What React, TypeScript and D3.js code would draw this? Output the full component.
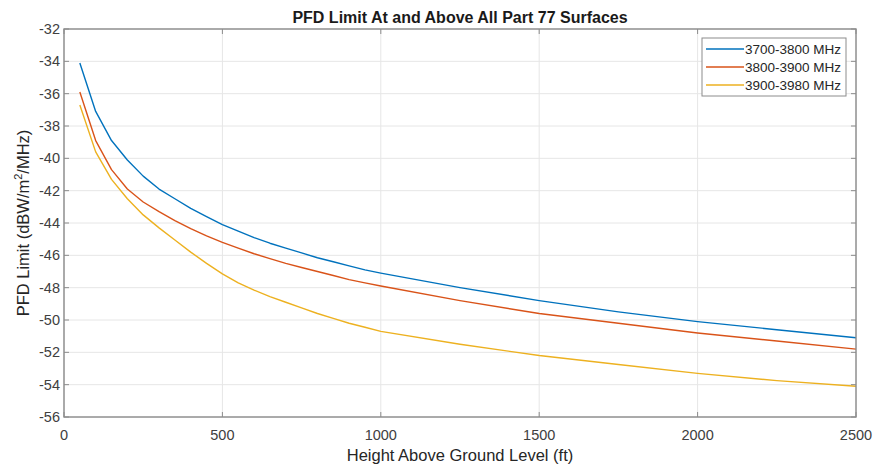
import React from "react";
import * as d3 from "d3";

const heights = [50, 100, 150, 200, 250, 300, 350, 400, 450, 500, 550, 600, 650, 700, 750, 800, 850, 900, 950, 1000, 1250, 1500, 1750, 2000, 2250, 2500];
const band1 = [-34.1, -37.1, -38.9, -40.1, -41.1, -41.9, -42.5, -43.1, -43.6, -44.1, -44.5, -44.9, -45.25, -45.55, -45.85, -46.15, -46.4, -46.65, -46.9, -47.1, -48.0, -48.8, -49.5, -50.1, -50.6, -51.1];
const band2 = [-35.9, -38.9, -40.7, -41.9, -42.7, -43.3, -43.85, -44.35, -44.8, -45.2, -45.55, -45.9, -46.2, -46.5, -46.75, -47.0, -47.25, -47.5, -47.7, -47.9, -48.8, -49.6, -50.2, -50.8, -51.3, -51.8];
const band3 = [-36.7, -39.6, -41.3, -42.5, -43.5, -44.3, -45.05, -45.8, -46.5, -47.15, -47.7, -48.15, -48.55, -48.9, -49.25, -49.6, -49.9, -50.2, -50.45, -50.7, -51.5, -52.2, -52.75, -53.3, -53.75, -54.1];
const seriesNames = ["3700-3800 MHz", "3800-3900 MHz", "3900-3980 MHz"];
const seriesColors = ["#0072BD", "#D95319", "#EDB120"];
const xTicks = [0, 500, 1000, 1500, 2000, 2500];
const yTicks = [-32, -34, -36, -38, -40, -42, -44, -46, -48, -50, -52, -54, -56];

const W = 874, H = 465;
const L = 64, R = 856, T = 29, B = 417;
const font = "'Liberation Sans', Arial, sans-serif";

export default function App() {
  const x = d3.scaleLinear().domain([0, 2500]).range([L, R]);
  const y = d3.scaleLinear().domain([-56, -32]).range([B, T]);
  const line = d3.line<[number, number]>().x(d => x(d[0])).y(d => y(d[1]));
  const all = [band1, band2, band3];
  const axisColor = "#8c8c8c";
  const tick = 5;
  return (
    <svg width={W} height={H} style={{ position: "absolute", left: 0, top: 0, background: "#fff" }} fontFamily={font}>
      <rect x={0} y={0} width={W} height={H} fill="#fff" />
      {xTicks.map(t => (
        <line key={"gx" + t} x1={x(t)} x2={x(t)} y1={T} y2={B} stroke="#e6e6e6" strokeWidth={1} />
      ))}
      {yTicks.map(t => (
        <line key={"gy" + t} x1={L} x2={R} y1={y(t)} y2={y(t)} stroke="#e6e6e6" strokeWidth={1} />
      ))}
      {all.map((s, i) => (
        <path key={"s" + i} d={line(heights.map((h, j) => [h, s[j]] as [number, number])) || ""} fill="none" stroke={seriesColors[i]} strokeWidth={1.4} strokeLinejoin="round" />
      ))}
      <rect x={L} y={T} width={R - L} height={B - T} fill="none" stroke={axisColor} strokeWidth={1.4} />
      {xTicks.map(t => (
        <g key={"xt" + t}>
          <line x1={x(t)} x2={x(t)} y1={B} y2={B - tick} stroke={axisColor} strokeWidth={1} />
          <line x1={x(t)} x2={x(t)} y1={T} y2={T + tick} stroke={axisColor} strokeWidth={1} />
          <text x={x(t)} y={440} textAnchor="middle" fontSize={14.5} fill="#404040">{t}</text>
        </g>
      ))}
      {yTicks.map(t => (
        <g key={"yt" + t}>
          <line x1={L} x2={L + tick} y1={y(t)} y2={y(t)} stroke={axisColor} strokeWidth={1} />
          <line x1={R} x2={R - tick} y1={y(t)} y2={y(t)} stroke={axisColor} strokeWidth={1} />
          <text x={L - 4} y={y(t) + 5} textAnchor="end" fontSize={14.5} fill="#404040">{t}</text>
        </g>
      ))}
      <text x={(L + R) / 2} y={23} textAnchor="middle" fontSize={16} fontWeight="bold" fill="#1a1a1a">PFD Limit At and Above All Part 77 Surfaces</text>
      <text x={(L + R) / 2} y={461} textAnchor="middle" fontSize={16.5} fill="#262626">Height Above Ground Level (ft)</text>
      <text transform={`translate(28.5,${(T + B) / 2}) rotate(-90)`} textAnchor="middle" fontSize={16.5} fill="#262626">
        PFD Limit (dBW/m<tspan fontSize={11} dy={-7}>2</tspan><tspan dy={7}>/MHz)</tspan>
      </text>
      <rect x={702} y={38} width={144} height={58} fill="#fff" stroke="#8c8c8c" strokeWidth={1} />
      {seriesNames.map((n, i) => (
        <g key={"lg" + i}>
          <line x1={706} x2={744} y1={49 + i * 18} y2={49 + i * 18} stroke={seriesColors[i]} strokeWidth={1.4} />
          <text x={745} y={49 + i * 18 + 5} fontSize={13.5} fill="#262626">{n}</text>
        </g>
      ))}
    </svg>
  );
}
